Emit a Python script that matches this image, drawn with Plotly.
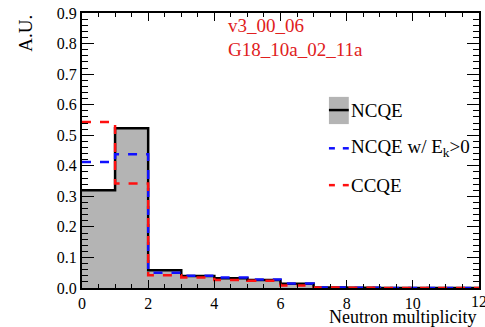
import plotly.graph_objects as go

bin_edges = list(range(0, 13))
ncqe = [0.320, 0.523, 0.058, 0.039, 0.032, 0.026, 0.014, 0.002, 0.001, 0.0, 0.0, 0.0]
ncqe_ek = [0.412, 0.438, 0.050, 0.040, 0.034, 0.028, 0.015, 0.002, 0.001, 0.0, 0.0, 0.0]
ccqe = [0.543, 0.342, 0.042, 0.034, 0.026, 0.024, 0.008, 0.002, 0.001, 0.0, 0.0, 0.0]
labels = ["NCQE", "NCQE w/ E<sub>k</sub>>0", "CCQE"]
version_text = ["v3_00_06", "G18_10a_02_11a"]
x_ticks = [0, 2, 4, 6, 8, 10, 12]

FONT = "Liberation Serif, Times New Roman, Times, DejaVu Serif, serif"
BLUE = "#1010ff"
RED = "#ff1010"

def step(vals):
    return bin_edges, list(vals) + [vals[-1]]

fig = go.Figure()
x, y = step(ncqe)
fig.add_trace(go.Scatter(x=x, y=y, mode="lines", line=dict(shape="hv", color="black", width=2.5),
                         fill="tozeroy", fillcolor="#b4b4b4", name=labels[0], showlegend=False))
x, y = step(ncqe_ek)
fig.add_trace(go.Scatter(x=x, y=y, mode="lines", line=dict(shape="hv", color=BLUE, width=2.5, dash="dash"),
                         name=labels[1], showlegend=False))
x, y = step(ccqe)
fig.add_trace(go.Scatter(x=x, y=y, mode="lines", line=dict(shape="hv", color=RED, width=2.5, dash="dash"),
                         name=labels[2], showlegend=False))

for i, t in enumerate(version_text):
    fig.add_annotation(text=t, x=0.362, y=1.0 - i * 0.087, xref="paper", yref="paper",
                       xanchor="left", yanchor="top", showarrow=False,
                       font=dict(family=FONT, size=19, color="#e02020"))

# manual legend
leg_x0, leg_x1, txt_x = 0.622, 0.672, 0.672
rows = [0.647, 0.508, 0.374]
fig.add_shape(type="rect", xref="paper", yref="paper", x0=leg_x0, x1=leg_x1, y0=0.596, y1=0.695,
              fillcolor="#b4b4b4", line=dict(width=0))
fig.add_shape(type="line", xref="paper", yref="paper", x0=leg_x0, x1=leg_x1, y0=rows[0], y1=rows[0],
              line=dict(color="black", width=2.5))
for yy, c in [(rows[1], BLUE), (rows[2], RED)]:
    for a, b in [(0.622, 0.637), (0.657, 0.672)]:
        fig.add_shape(type="line", xref="paper", yref="paper", x0=a, x1=b, y0=yy, y1=yy,
                      line=dict(color=c, width=2.5))
for yy, lab in zip(rows, labels):
    fig.add_annotation(text=lab, x=txt_x, y=yy, xref="paper", yref="paper", xanchor="left",
                       yanchor="middle", showarrow=False, font=dict(family=FONT, size=19, color="black"))

fig.update_layout(
    width=485, height=327,
    margin=dict(l=82, r=4, t=13, b=39),
    paper_bgcolor="white", plot_bgcolor="white",
    font=dict(family=FONT, size=16, color="black"),
    showlegend=False,
)
fig.update_xaxes(range=[0, 12], tickvals=x_ticks[:-1], ticks="inside", ticklen=8, tickwidth=1.2,
                 tickcolor="black", showline=True, linecolor="black", linewidth=2, mirror="ticks",
                 showgrid=False, zeroline=False,
                 minor=dict(dtick=0.5, tick0=0, ticks="inside", ticklen=4, tickcolor="black"),
                 tickfont=dict(family=FONT, size=16))
fig.update_yaxes(range=[0, 0.9], dtick=0.1, tick0=0, tickformat=".1f", ticks="inside", ticklen=12,
                 tickwidth=1.2, tickcolor="black", showline=True, linecolor="black", linewidth=2,
                 mirror="ticks", showgrid=False, zeroline=False,
                 minor=dict(dtick=0.02, ticks="inside", ticklen=6, tickcolor="black"),
                 tickfont=dict(family=FONT, size=16))
fig.add_annotation(text=str(x_ticks[-1]), x=x_ticks[-1], y=0, xref="x", yref="paper", yshift=-3,
                   xanchor="center", yanchor="top", showarrow=False, font=dict(family=FONT, size=16))
fig.add_annotation(text="A.U.", x=-0.143, y=1.0, xref="paper", yref="paper", textangle=-90,
                   xanchor="center", yanchor="top", showarrow=False, font=dict(family=FONT, size=19))
fig.add_annotation(text="Neutron multiplicity", x=0.997, y=-0.06, xref="paper", yref="paper",
                   xanchor="right", yanchor="top", showarrow=False, font=dict(family=FONT, size=18))

fig.write_html("out.html")
